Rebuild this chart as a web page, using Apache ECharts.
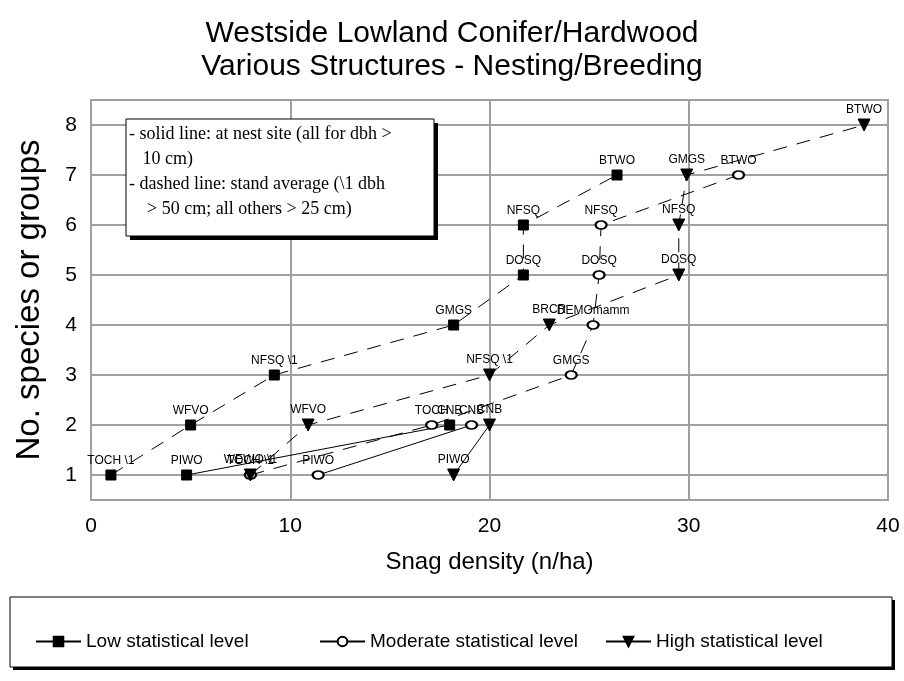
<!DOCTYPE html>
<html>
<head>
<meta charset="utf-8">
<script src="https://cdn.jsdelivr.net/npm/echarts@6/dist/echarts.min.js"></script>
<style>
  html, body { margin: 0; padding: 0; background: #fff; }
  #chart { width: 904px; height: 681px; }
</style>
</head>
<body>
<div id="chart"></div>
<script>
// ticks
const xTicks = [0, 10, 20, 30, 40]
const yTicks = [1, 2, 3, 4, 5, 6, 7, 8]

// Low statistical level
const lowNestX = [4.8, 18.0]
const lowNestY = [1, 2]
const lowNestLabels = ['PIWO', 'CNB']
const lowStandX = [1.0, 5.0, 9.2, 18.2, 21.7, 21.7, 26.4]
const lowStandY = [1, 2, 3, 4, 5, 6, 7]
const lowStandLabels = ['TOCH \\1', 'WFVO', 'NFSQ \\1', 'GMGS', 'DOSQ', 'NFSQ', 'BTWO']

// Moderate statistical level
const modNestX = [11.4, 19.1]
const modNestY = [1, 2]
const modNestLabels = ['PIWO', 'CNB']
const modStandX = [8.0, 17.1, 24.1, 25.2, 25.5, 25.6, 32.5]
const modStandY = [1, 2, 3, 4, 5, 6, 7]
const modStandLabels = ['TOCH \\1', 'TOCH', 'GMGS', 'DEMOmamm', 'DOSQ', 'NFSQ', 'BTWO']

// High statistical level
const highNestX = [18.2, 20.0]
const highNestY = [1, 2]
const highNestLabels = ['PIWO', 'CNB']
const highStandX = [8.0, 10.9, 20.0, 23.0, 29.5, 29.5, 29.9, 38.8]
const highStandY = [1, 2, 3, 4, 5, 6, 7, 8]
const highStandLabels = ['WEWO \\1', 'WFVO', 'NFSQ \\1', 'BRCR', 'DOSQ', 'NFSQ', 'GMGS', 'BTWO']

const levelNames = ['Low statistical level', 'Moderate statistical level', 'High statistical level']

const chart = echarts.init(document.getElementById('chart'))

function points(xs, ys, labels) {
  return xs.map((x, i) => ({ value: [x, ys[i]], name: labels[i] }))
}

function makeSeries(name, data, dashed, symbol, size, rotate) {
  return {
    name: name,
    type: 'line',
    data: data,
    symbol: symbol,
    symbolSize: size,
    symbolRotate: rotate || 0,
    showAllSymbol: true,
    itemStyle: { color: '#000', borderColor: '#000', borderWidth: 1 },
    lineStyle: { color: '#000', width: 1, type: dashed ? [14, 10] : 'solid' },
    label: {
      show: true,
      position: 'top',
      distance: 3,
      formatter: '{b}',
      fontFamily: 'Liberation Sans',
      fontSize: 12,
      color: '#000'
    },
    emphasis: { disabled: true },
    z: 3
  }
}

const grey = '#a0a0a0'

const option = {
  animation: false,
  backgroundColor: '#fff',
  title: {
    text: 'Westside Lowland Conifer/Hardwood\nVarious Structures - Nesting/Breeding',
    left: 'center',
    top: 12,
    textStyle: {
      fontFamily: 'Liberation Sans',
      fontWeight: 'normal',
      fontSize: 30,
      lineHeight: 33,
      color: '#000'
    }
  },
  grid: {
    left: 91, right: 16, top: 100, bottom: 181,
    show: true, borderColor: grey, borderWidth: 2
  },
  legend: levelNames.map((n, i) => ({
    data: [n],
    left: [30, 314, 600][i],
    top: 627,
    itemWidth: 45,
    itemHeight: 12,
    itemGap: 5,
    selectedMode: false,
    z: 5,
    textStyle: { fontFamily: 'Liberation Sans', fontSize: 19, color: '#000' }
  })),
  xAxis: {
    type: 'value',
    min: 0, max: 40, interval: 10,
    name: 'Snag density (n/ha)',
    nameLocation: 'middle',
    nameGap: 50,
    nameTextStyle: { fontFamily: 'Liberation Sans', fontSize: 24, color: '#000' },
    axisLine: { show: true, lineStyle: { color: grey, width: 2 } },
    axisTick: { show: false },
    axisLabel: {
      margin: 16,
      fontFamily: 'Liberation Sans', fontSize: 21, color: '#000',
      formatter: v => xTicks.includes(v) ? String(v) : ''
    },
    splitLine: { show: true, lineStyle: { color: grey, width: 2 } }
  },
  yAxis: {
    type: 'value',
    min: 0.5, max: 8.5, splitNumber: 8,
    name: 'No. species or groups',
    nameLocation: 'middle',
    nameGap: 45,
    nameTextStyle: { fontFamily: 'Liberation Sans', fontSize: 33, color: '#000' },
    axisLine: { show: true, lineStyle: { color: grey, width: 2 } },
    axisTick: { show: false },
    axisLabel: {
      margin: 14,
      fontFamily: 'Liberation Sans', fontSize: 21, color: '#000',
      formatter: v => yTicks.includes(v) ? String(v) : ''
    },
    splitLine: { show: true, lineStyle: { color: grey, width: 2 } }
  },
  graphic: [
    // note box: shadow then frame
    {
      type: 'rect',
      shape: { x: 130, y: 123, width: 308, height: 117 },
      style: { fill: '#000' },
      z: 10
    },
    {
      type: 'rect',
      shape: { x: 126, y: 119, width: 308, height: 117 },
      style: { fill: '#fff', stroke: '#000', lineWidth: 1 },
      z: 11
    },
    {
      type: 'text',
      x: 129, y: 122,
      style: {
        text: '- solid line: at nest site (all for dbh >\n   10 cm)\n- dashed line: stand average (\\1 dbh\n    > 50 cm; all others > 25 cm)',
        font: '18px "Liberation Serif"',
        lineHeight: 25,
        fill: '#000'
      },
      z: 12
    },
    // legend box: shadow then frame
    {
      type: 'rect',
      shape: { x: 13, y: 600, width: 882, height: 70 },
      style: { fill: '#000' },
      z: 1
    },
    {
      type: 'rect',
      shape: { x: 10, y: 597, width: 882, height: 70 },
      style: { fill: '#fff', stroke: '#000', lineWidth: 1 },
      z: 2
    }
  ],
  series: [
    makeSeries(levelNames[0], points(lowNestX, lowNestY, lowNestLabels), false, 'rect', 10),
    makeSeries(levelNames[1], points(modNestX, modNestY, modNestLabels), false, 'emptyCircle', [11, 8]),
    makeSeries(levelNames[2], points(highNestX, highNestY, highNestLabels), false, 'triangle', 12, 180),
    makeSeries(levelNames[0], points(lowStandX, lowStandY, lowStandLabels), true, 'rect', 10),
    makeSeries(levelNames[1], points(modStandX, modStandY, modStandLabels), true, 'emptyCircle', [11, 8]),
    makeSeries(levelNames[2], points(highStandX, highStandY, highStandLabels), true, 'triangle', 12, 180)
  ]
}

chart.setOption(option)
window.addEventListener('resize', chart.resize)
</script>
</body>
</html>
